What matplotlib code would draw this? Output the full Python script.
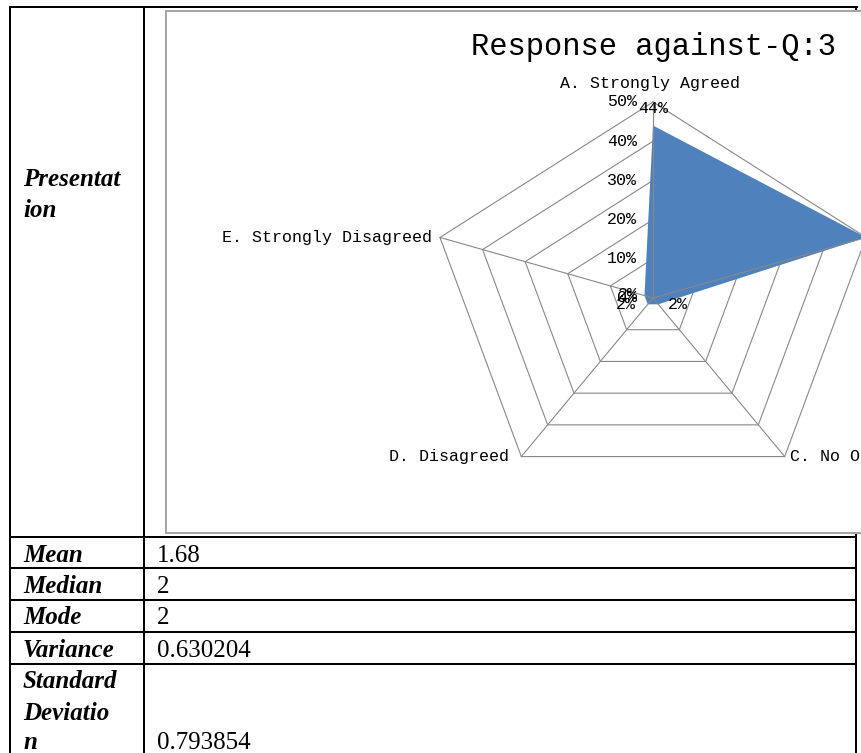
import numpy as np
import matplotlib
matplotlib.use("Agg")
import matplotlib.pyplot as plt

# ---- data ----
categories = ["A. Strongly Agreed", "B. Agreed", "C. No Opinion",
              "D. Disagreed", "E. Strongly Disagreed"]
shares = [44, 50, 2, 2, 2]                      # percent of responses
ring_values = [0, 10, 20, 30, 40, 50]
ring_labels = ["0%", "10%", "20%", "30%", "40%", "50%"]
chart_title = "Response against-Q:3"

row_header = ["Presentat", "ion"]
stat_names = [["Mean"], ["Median"], ["Mode"], ["Variance"],
              ["Standard", "Deviatio", "n"]]
stat_values = ["1.68", "2", "2", "0.630204", "0.793854"]

# ---- figure / page coordinates (pixels) ----
W, H = 861, 753
fig = plt.figure(figsize=(W / 100, H / 100), dpi=100)
page = fig.add_axes([0, 0, 1, 1])
page.set_xlim(0, W)
page.set_ylim(H, 0)
page.axis("off")

PX = 72 / 100  # points per pixel
lw_table = 2 * PX
x_left, x_div, x_right = 10, 144, 856
y_top = 7
row_lines = [537, 568, 600, 632, 664]

page.plot([x_left, x_right + 1], [y_top, y_top], color="black", lw=lw_table,
          solid_capstyle="projecting")
for x in (x_left, x_div, x_right):
    page.plot([x, x], [y_top, H + 5], color="black", lw=lw_table)
for y in row_lines:
    page.plot([x_left, x_right], [y, y], color="black", lw=lw_table)

serif = "Liberation Serif"
fs_table = 18
page.text(23, 186, row_header[0], family=serif, style="italic", weight="bold",
          fontsize=fs_table, va="baseline", ha="left")
page.text(23, 217, row_header[1], family=serif, style="italic", weight="bold",
          fontsize=fs_table, va="baseline", ha="left")

baselines = [[562], [593], [624], [657], [688, 720, 749]]
for names, value, bls in zip(stat_names, stat_values, baselines):
    for name, bl in zip(names, bls):
        page.text(23, bl, name, family=serif, style="italic", weight="bold",
                  fontsize=fs_table, va="baseline", ha="left")
    page.text(157, bls[-1], value, family=serif, fontsize=fs_table,
              va="baseline", ha="left")

# ---- radar chart area ----
fl, ft, fb = 166, 11, 533
cx, cy = 653, 298
rx, ry = 224, 196          # pixel radius of the 50% ring (x and y)
sx, sy = rx / 50, ry / 50  # pixels per percent
ax = fig.add_axes([fl / W, (H - fb) / H, (W - fl) / W, (fb - ft) / H])
ax.set_xlim((fl - cx) / sx, (W - cx) / sx)
ax.set_ylim(-(fb - cy) / sy, (cy - ft) / sy)
ax.set_xticks([])
ax.set_yticks([])
ax.set_facecolor("white")
for side in ("left", "top", "bottom"):
    ax.spines[side].set_color("#a6a6a6")
    ax.spines[side].set_linewidth(2 * PX)
ax.spines["right"].set_visible(False)

n = len(categories)
theta = np.deg2rad(90 - 72 * np.arange(n))
ux, uy = np.cos(theta), np.sin(theta)
grid_col = "#878787"
grid_lw = 1.1 * PX

for r in ring_values[1:]:
    ax.plot(np.r_[ux, ux[0]] * r, np.r_[uy, uy[0]] * r, color=grid_col,
            lw=grid_lw, zorder=1)

vals = np.array(shares, dtype=float)
ax.fill(ux * vals, uy * vals, color="#4f81bd", lw=0, zorder=2)

rmax = ring_values[-1]
for i in range(n):
    ax.plot([0, ux[i] * rmax], [0, uy[i] * rmax], color=grid_col,
            lw=grid_lw, zorder=3)

mono = "Liberation Mono"
fs_small = 12
# ring value labels along the first spoke
for r, lab in zip(ring_values, ring_labels):
    ax.annotate(lab, (0, r), xytext=(-11.5, 0), textcoords="offset points",
                ha="right", va="center", family=mono, fontsize=fs_small,
                zorder=5, annotation_clip=False)

# category labels at the outer vertices
cat_offsets = [((-2, 13), "center", "center"),
               ((8, 0), "left", "center"),
               ((4, 0), "left", "center"),
               ((-9, 0), "right", "center"),
               ((-6, 0), "right", "center")]
for i, (lab, (off, ha, va)) in enumerate(zip(categories, cat_offsets)):
    t = ax.annotate(lab, (ux[i] * rmax, uy[i] * rmax), xytext=off,
                    textcoords="offset points", ha=ha, va=va, family=mono,
                    fontsize=fs_small, zorder=5, annotation_clip=False)
    t.set_clip_on(True)

# value labels for each point
val_offsets = [(0, 12), (14, 0), (14, 0), (-16, 0), (-12, 1)]
for i, (v, off) in enumerate(zip(shares, val_offsets)):
    t = ax.annotate(f"{v}%", (ux[i] * v, uy[i] * v), xytext=off,
                    textcoords="offset points", ha="center", va="center",
                    family=mono, fontsize=fs_small, zorder=6,
                    annotation_clip=False)
    t.set_clip_on(True)

ax.text(0, (cy - 47) / sy, chart_title, ha="center", va="center",
        family=mono, fontsize=22, zorder=6)

fig.savefig("out.png", dpi=100)
